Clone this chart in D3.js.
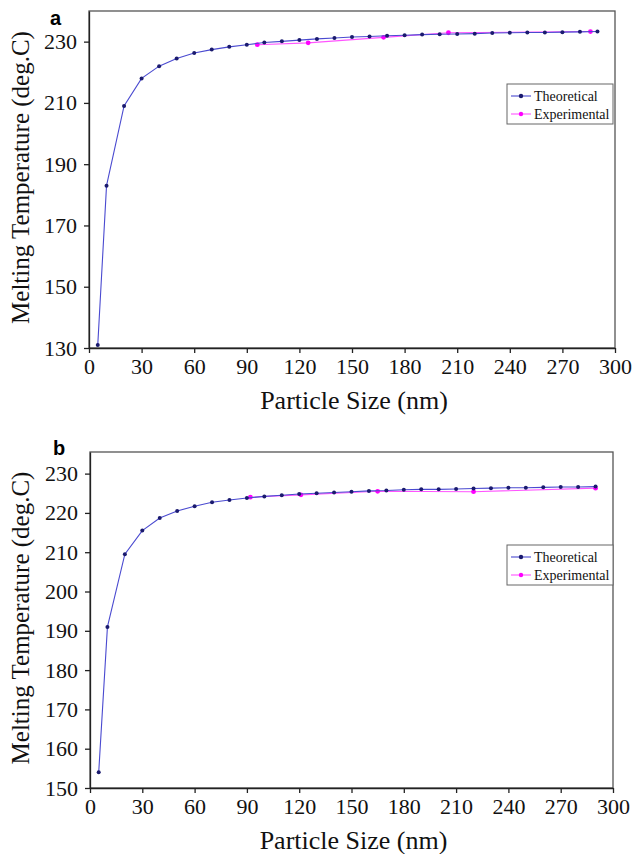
<!DOCTYPE html>
<html lang="en">
<head>
<meta charset="UTF-8">
<title>Melting Temperature vs Particle Size</title>
<script src="https://d3js.org/d3.v7.min.js"></script>
<style>
    body { margin: 0; background: #fff; }
    svg { display: block; }
    .axis path, .axis line { stroke: #222; stroke-width: 1.3; }
    .title { font-size: 26px; fill: #111; }
    .legend text { font-size: 14px; fill: #111; }
    .panel-label { font-family: "Liberation Sans", Arial, sans-serif; font-weight: bold; font-size: 20px; }
</style>
</head>
<body>
<svg width="633" height="854"></svg>
<script>
// particle sizes (nm)
var sizesTheory = [5, 10, 20, 30, 40, 50, 60, 70, 80, 90, 100, 110, 120, 130, 140, 150,
    160, 170, 180, 190, 200, 210, 220, 230, 240, 250, 260, 270, 280, 290];

// panel a
var theoryA = [131, 183, 209, 218, 222, 224.5, 226.3, 227.4, 228.3, 229, 229.7, 230.1, 230.5,
    230.9, 231.2, 231.5, 231.7, 231.9, 232.1, 232.3, 232.4, 232.5, 232.6, 232.8, 232.9,
    233, 233, 233.1, 233.2, 233.3];
var expSizesA = [96, 125, 168, 205, 286];
var expA = [229, 229.6, 231.4, 232.9, 233.3];
var yTicksA = [130, 150, 170, 190, 210, 230];

// panel b
var theoryB = [154, 191, 209.5, 215.5, 218.7, 220.5, 221.7, 222.7, 223.3, 223.8, 224.2, 224.5,
    224.8, 225, 225.2, 225.4, 225.6, 225.7, 225.9, 226, 226, 226.1, 226.2, 226.3, 226.4,
    226.4, 226.5, 226.6, 226.6, 226.7];
var expSizesB = [92, 121, 165, 220, 290];
var expB = [224, 224.6, 225.5, 225.4, 226.3];
var yTicksB = [150, 160, 170, 180, 190, 200, 210, 220, 230];

var xTicks = [0, 30, 60, 90, 120, 150, 180, 210, 240, 270, 300];
var seriesNames = ["Theoretical", "Experimental"];
var colors = ["#1a1a6e", "#ff00ff"];
var lineColors = ["#4a4ad0", "#ff55ff"];

var svg = d3.select("svg");
var serif = "'Liberation Serif', 'DejaVu Serif', serif";

function drawPanel(opts) {
    var g = svg.append("g");
    var x = d3.scaleLinear().domain([0, 300]).range([opts.left, opts.right]);
    var y = d3.scaleLinear().domain(opts.yDomain).range([opts.bottom, opts.top]);

    // frame
    g.append("rect")
        .attr("x", opts.left).attr("y", opts.top)
        .attr("width", opts.right - opts.left).attr("height", opts.bottom - opts.top)
        .attr("fill", "none").attr("stroke", "#555").attr("stroke-width", 1.3);

    var xa = g.append("g").attr("class", "axis")
        .attr("transform", "translate(0," + opts.bottom + ")")
        .call(d3.axisBottom(x).tickValues(xTicks).tickSize(5).tickSizeOuter(0).tickPadding(5));

    var ya = g.append("g").attr("class", "axis")
        .attr("transform", "translate(" + opts.left + ",0)")
        .call(d3.axisLeft(y).tickValues(opts.yTicks).tickSize(5).tickSizeOuter(0).tickPadding(7));

    [xa, ya].forEach(function(a) {
        a.attr("font-family", serif).attr("font-size", 22);
        a.selectAll("text").style("font-family", serif).style("font-size", "22px").attr("fill", "#111");
    });

    var line = d3.line()
        .x(function(d) { return x(d[0]); })
        .y(function(d) { return y(d[1]); });

    var sets = [
        d3.zip(sizesTheory, opts.theory),
        d3.zip(opts.expSizes, opts.exp)
    ];

    // draw experimental first so theoretical sits on top
    [1, 0].forEach(function(i) {
        g.append("path")
            .datum(sets[i])
            .attr("fill", "none")
            .attr("stroke", lineColors[i])
            .attr("stroke-width", 1.1)
            .attr("d", line);
        g.selectAll(".pt" + i)
            .data(sets[i])
            .enter().append("circle")
            .attr("class", "pt" + i)
            .attr("cx", function(d) { return x(d[0]); })
            .attr("cy", function(d) { return y(d[1]); })
            .attr("r", i === 0 ? 2 : 2.4)
            .attr("fill", colors[i]);
    });

    // axis titles
    g.append("text").attr("class", "title")
        .style("font-family", serif)
        .attr("x", (opts.left + opts.right) / 2 + 2)
        .attr("y", opts.bottom + 61)
        .attr("text-anchor", "middle")
        .text("Particle Size (nm)");

    g.append("text").attr("class", "title")
        .style("font-family", serif)
        .style("font-size", "25px")
        .attr("transform", "translate(" + 29 + "," + ((opts.top + opts.bottom) / 2 - 2) + ") rotate(-90)")
        .attr("text-anchor", "middle")
        .text("Melting Temperature (deg.C)");

    g.append("text").attr("class", "panel-label")
        .attr("x", opts.labelX).attr("y", opts.labelY)
        .text(opts.label);

    // legend
    var lg = g.append("g").attr("class", "legend")
        .attr("transform", "translate(" + 507 + "," + opts.legendY + ")");
    lg.append("rect")
        .attr("width", 106).attr("height", 40)
        .attr("fill", "#fff").attr("stroke", "#666").attr("stroke-width", 1);
    seriesNames.forEach(function(name, i) {
        var yy = 12 + i * 18;
        lg.append("line")
            .attr("x1", 4).attr("x2", 24).attr("y1", yy).attr("y2", yy)
            .attr("stroke", lineColors[i]).attr("stroke-width", 1.1);
        lg.append("circle").attr("cx", 14).attr("cy", yy).attr("r", 2.2).attr("fill", colors[i]);
        lg.append("text").style("font-family", serif)
            .attr("x", 27).attr("y", yy + 4.5).text(name);
    });
}

drawPanel({
    label: "a", labelX: 50, labelY: 25,
    left: 89, right: 615, top: 11, bottom: 348,
    yDomain: [130, 240], yTicks: yTicksA,
    theory: theoryA, expSizes: expSizesA, exp: expA, legendY: 84
});

drawPanel({
    label: "b", labelX: 53, labelY: 455,
    left: 90, right: 613, top: 452, bottom: 788,
    yDomain: [150, 235.5], yTicks: yTicksB,
    theory: theoryB, expSizes: expSizesB, exp: expB, legendY: 545
});
</script>
</body>
</html>
